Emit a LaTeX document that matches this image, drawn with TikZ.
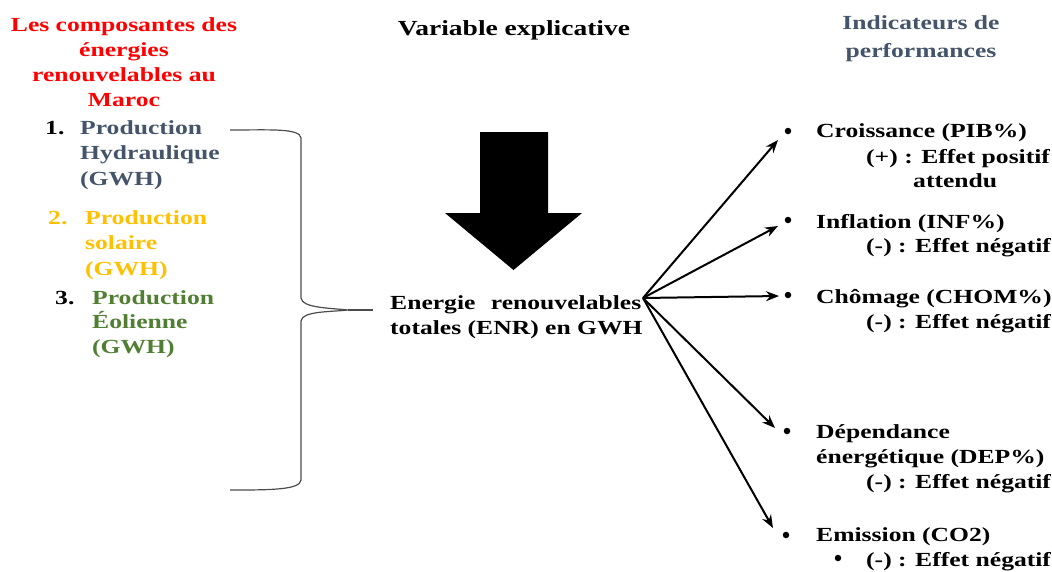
\documentclass[tikz,border=0pt]{standalone}
\usepackage{fontspec}
\setmainfont{Liberation Serif}[FakeStretch=1.28]
\usetikzlibrary{arrows.meta,calc}
\definecolor{tblue}{HTML}{44546A}
\definecolor{tgold}{HTML}{FFC000}
\definecolor{tgreen}{HTML}{507E32}
\definecolor{tred}{HTML}{FF0000}
\begin{document}
\begin{tikzpicture}[x=1pt,y=-1pt,
  txt/.style={inner sep=0pt, font=\bfseries\fontsize{20}{25.5}\selectfont, anchor=base west, align=left},
  ctxt/.style={inner sep=0pt, font=\bfseries\fontsize{20}{24.7}\selectfont, anchor=base, align=center},
  bul/.style={circle, fill=black, inner sep=0pt, minimum size=6.5pt},
  arr/.style={line width=2pt, -{Stealth[length=13pt,width=10pt]}},
  brace/.style={line width=1.2pt, draw=black!70}]
\useasboundingbox (0,0) rectangle (1052,571);

% titles (anchor base = baseline of last line)
\node[ctxt, text=tred] (t1) at (124,106) {Les composantes des\\énergies\\renouvelables au\\Maroc};
\node[ctxt, font=\bfseries\fontsize{21.5}{26}\selectfont] (t2) at (514,35) {Variable explicative};
\node[ctxt, text=tblue, font=\bfseries\fontsize{20}{28}\selectfont] (t3) at (921,57) {Indicateurs de\\performances};

% left items
\node[txt] (n1) at (45,134) {1.};
\node[txt, text=tblue] (p1) at (80,185) {Production\\Hydraulique\\(GWH)};
\node[txt, text=tgold] (n2) at (48,224) {2.};
\node[txt, text=tgold] (p2) at (85,275) {Production\\solaire\\(GWH)};
\node[txt, font=\bfseries\fontsize{20}{24.5}\selectfont] (n3) at (55,304) {3.};
\node[txt, text=tgreen, font=\bfseries\fontsize{20}{24.5}\selectfont] (p3) at (92,353) {Production\\Éolienne\\(GWH)};

% brace
\coordinate (tip) at (348,310);
\draw[brace] (230,130) .. controls (270,130) and (300,128) .. (301,138) -- (301,298)
  .. controls (302,308) and (330,308) .. (tip)
  .. controls (330,312) and (302,311) .. (301,321) -- (301,480)
  .. controls (300,490) and (270,490) .. (230,490);

% big arrow
\fill (480,132) -- (548,132) -- (548,213) -- (582,213) -- (513.5,270) -- (445,213) -- (480,213) -- cycle;

% center node
\node[txt, font=\bfseries\fontsize{20}{25}\selectfont] (enr) at (390,334) {\makebox[251pt][s]{Energie renouvelables}\\totales (ENR) en GWH};
\draw[brace] (tip) -- (373,310);

% right items
\node[bul] (b1) at (788,131) {};
\node[txt] (c1) at (816,137) {Croissance (PIB\%)};
\node[txt] (c1a) at (866,163) {(+) : Effet positif};
\node[txt] (c1b) at (913,187) {attendu};

\node[bul] (b2) at (788,220) {};
\node[txt] (c2) at (816,228) {Inflation (INF\%)};
\node[txt] (c2a) at (866,252) {(-) : Effet négatif};

\node[bul] (b3) at (788,295) {};
\node[txt] (c3) at (816,303) {Chômage (CHOM\%)};
\node[txt] (c3a) at (866,328) {(-) : Effet négatif};

\node[bul] (b4) at (787,431) {};
\node[txt] (c4) at (816,438) {Dépendance};
\node[txt] (c4a) at (816,463) {énergétique (DEP\%)};
\node[txt] (c4b) at (866,488) {(-) : Effet négatif};

\node[bul] (b5) at (786,535) {};
\node[txt] (c5) at (816,541) {Emission (CO2)};
\node[bul] (b6) at (838,558) {};
\node[txt] (c5a) at (866,566) {(-) : Effet négatif};

% arrows
\coordinate (src) at (643,298);
\draw[arr] (src) -- ($(b1)+(-10,9)$);
\draw[arr] (src) -- ($(b2)+(-10,6)$);
\draw[arr] (src) -- ($(b3)+(-9,1)$);
\draw[arr] (src) -- ($(b4)+(-12,-3)$);
\draw[arr] (src) -- ($(b5)+(-13,-7)$);
\end{tikzpicture}
\end{document}
